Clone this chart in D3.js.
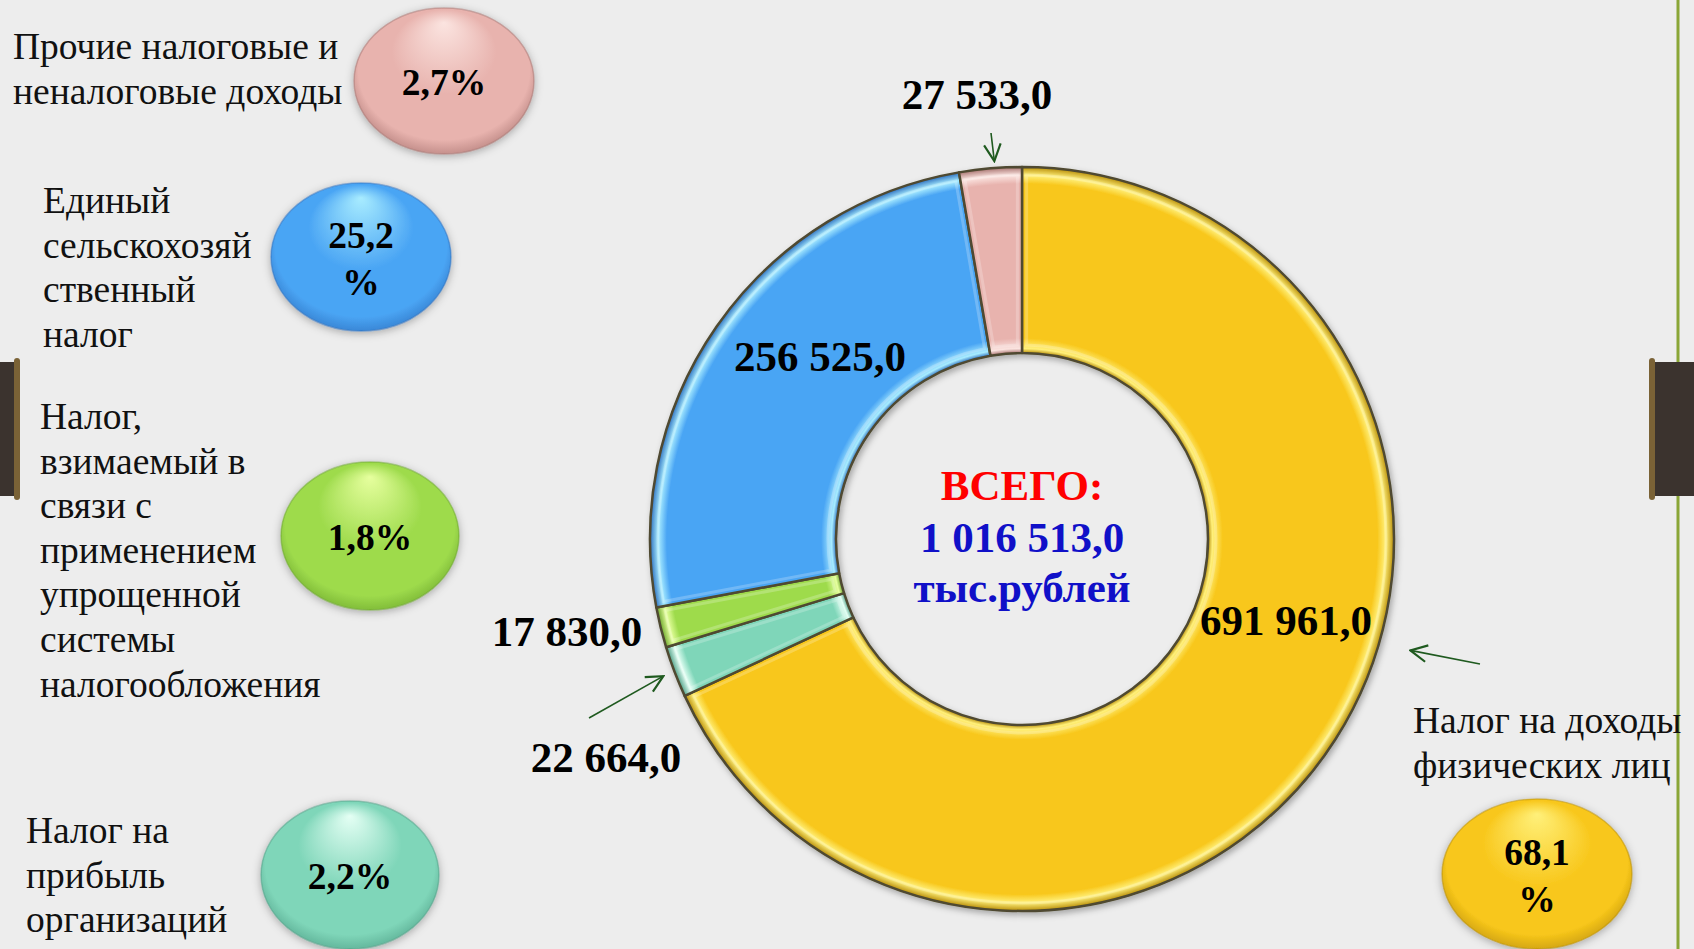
<!DOCTYPE html>
<html>
<head>
<meta charset="utf-8">
<script src="https://cdn.jsdelivr.net/npm/d3@7"></script>
<style>
  html, body { margin: 0; padding: 0; background: #ededed; }
  svg { display: block; }
</style>
</head>
<body>
<svg id="chart"></svg>
<script>
// data
const categories = [
    'Налог на доходы физических лиц',
    'Налог на прибыль организаций',
    'Налог, взимаемый в связи с применением упрощенной системы налогообложения',
    'Единый сельскохозяйственный налог',
    'Прочие налоговые и неналоговые доходы'
];
const values = [691961.0, 22664.0, 17830.0, 256525.0, 27533.0];
const legendLines = [
    ['Налог на доходы', 'физических лиц'],
    ['Налог на', 'прибыль', 'организаций'],
    ['Налог,', 'взимаемый в', 'связи с', 'применением', 'упрощенной', 'системы', 'налогообложения'],
    ['Единый', 'сельскохозяй', 'ственный', 'налог'],
    ['Прочие налоговые и', 'неналоговые доходы']
];
const totalLines = ['ВСЕГО:', null, 'тыс.рублей'];

// colours per slice: base, light, dark
const sliceColors = [
    { base: '#f8c71b', light: '#fff07a', dark: '#b88d08' },
    { base: '#7fd6b9', light: '#e4fff4', dark: '#4e9f86' },
    { base: '#9edb4c', light: '#e6ff9e', dark: '#6aa52a' },
    { base: '#4aa5f4', light: '#a8ecff', dark: '#2c6fbf' },
    { base: '#e8b3ae', light: '#fbe4e0', dark: '#a87370' }
];

const W = 1694, H = 949;
const cx = 1022, cy = 539, rOuter = 372, rInner = 186;
const serif = '"Liberation Serif", "Times New Roman", serif';

const ruLocale = d3.formatLocale({ decimal: ',', thousands: ' ', grouping: [3], currency: ['', ''] });
const fmtValue = ruLocale.format(',.1f');
const fmtPct = ruLocale.format('.1f');

const total = d3.sum(values);
const data = values.map((v, i) => ({ name: categories[i], value: v, color: sliceColors[i], lines: legendLines[i] }));

const svg = d3.select('#chart').attr('width', W).attr('height', H);
const defs = svg.append('defs');

// background
svg.append('rect').attr('width', W).attr('height', H).attr('fill', '#ededed');

// right border line and the two dark tabs
svg.append('line')
    .attr('x1', 1678).attr('x2', 1678).attr('y1', 0).attr('y2', H)
    .attr('stroke', '#8aa637').attr('stroke-width', 3);
[[-6, 24], [1651, 50]].forEach(([x, w]) => {
    svg.append('rect').attr('x', x).attr('y', 362).attr('width', w).attr('height', 134)
        .attr('fill', '#3b332e');
    svg.append('rect').attr('x', x + (x < 0 ? w - 4 : -2)).attr('y', 358).attr('width', 6).attr('height', 142)
        .attr('rx', 3).attr('fill', '#7a6236');
});

// filters
const shadow = defs.append('filter').attr('id', 'shadow')
    .attr('x', '-20%').attr('y', '-20%').attr('width', '140%').attr('height', '140%');
shadow.append('feDropShadow').attr('dx', 2).attr('dy', 3).attr('stdDeviation', 3)
    .attr('flood-color', '#000').attr('flood-opacity', 0.3);

const blur = defs.append('filter').attr('id', 'soft')
    .attr('x', '-20%').attr('y', '-20%').attr('width', '140%').attr('height', '140%');
blur.append('feDropShadow').attr('dx', 0).attr('dy', 2).attr('stdDeviation', 4)
    .attr('flood-color', '#000').attr('flood-opacity', 0.3);

// ring gradients (bevel look), in the donut group's own coordinates
const k = rInner / rOuter;
data.forEach((d, i) => {
    const g = defs.append('radialGradient').attr('id', 'ring' + i)
        .attr('gradientUnits', 'userSpaceOnUse')
        .attr('cx', 0).attr('cy', 0).attr('r', rOuter);
    [
        [k, d.color.dark],
        [k + 0.012, d.color.light],
        [k + 0.04, d.color.base],
        [0.955, d.color.base],
        [0.978, d.color.light],
        [1, d.color.dark]
    ].forEach(([o, c]) => g.append('stop').attr('offset', o).attr('stop-color', c));
});

// donut
const pie = d3.pie().sort(null).value(d => d.value);
const arc = d3.arc().innerRadius(rInner).outerRadius(rOuter);
const arcs = pie(data);

const donut = svg.append('g')
    .attr('transform', `translate(${cx}, ${cy})`)
    .attr('filter', 'url(#shadow)');

donut.selectAll('path.slice')
    .data(arcs)
    .enter()
    .append('path')
    .attr('class', 'slice')
    .attr('d', arc)
    .attr('fill', (d, i) => `url(#ring${i})`)
    .attr('stroke', '#4f4a30')
    .attr('stroke-width', 2.5)
    .attr('stroke-linejoin', 'round');

// inner bevel highlight along slice edges
const hiArc = d3.arc().innerRadius(rInner + 8).outerRadius(rOuter - 8).padAngle(0.025).padRadius(rOuter);
donut.selectAll('path.hi')
    .data(arcs)
    .enter()
    .append('path')
    .attr('class', 'hi')
    .attr('d', hiArc)
    .attr('fill', 'none')
    .attr('stroke', '#ffffff')
    .attr('stroke-opacity', 0.22)
    .attr('stroke-width', 3);

// value labels (placed as in the original)
const labelPos = [
    { x: 1286, y: 635 },
    { x: 606, y: 772 },
    { x: 567, y: 646 },
    { x: 820, y: 371 },
    { x: 977, y: 109 }
];
svg.selectAll('text.value')
    .data(arcs)
    .enter()
    .append('text')
    .attr('class', 'value')
    .attr('x', (d, i) => labelPos[i].x)
    .attr('y', (d, i) => labelPos[i].y)
    .attr('text-anchor', 'middle')
    .attr('font-family', serif)
    .attr('font-weight', 'bold')
    .attr('font-size', 43)
    .attr('fill', '#000')
    .text(d => fmtValue(d.data.value));

// arrows
defs.append('marker').attr('id', 'arrow')
    .attr('viewBox', '0 0 12 12').attr('refX', 11).attr('refY', 6)
    .attr('markerWidth', 20).attr('markerHeight', 20)
    .attr('markerUnits', 'userSpaceOnUse')
    .attr('orient', 'auto')
    .append('path')
    .attr('d', 'M1,1 L11,6 L1,11')
    .attr('fill', 'none')
    .attr('stroke', '#1f5a1f')
    .attr('stroke-width', 1.3);

const polar = (a, r) => [cx + r * Math.sin(a), cy - r * Math.cos(a)];
const mid = d => (d.startAngle + d.endAngle) / 2;
const arrows = [
    { slice: 4, tip: polar(mid(arcs[4]) + 0.012, rOuter + 7), tail: [991, 133] },
    { slice: 1, tip: polar(mid(arcs[1]), rOuter + 12), tail: [589, 718] },
    { slice: 0, tip: polar(106 * Math.PI / 180, rOuter + 32), tail: [1480, 664] }
];
svg.selectAll('line.arrow')
    .data(arrows)
    .enter()
    .append('line')
    .attr('class', 'arrow')
    .attr('x1', d => d.tail[0]).attr('y1', d => d.tail[1])
    .attr('x2', d => d.tip[0]).attr('y2', d => d.tip[1])
    .attr('stroke', '#1f5a1f')
    .attr('stroke-width', 1.6)
    .attr('marker-end', 'url(#arrow)');

// centre total
const centre = svg.append('g').attr('font-family', serif).attr('font-weight', 'bold')
    .attr('font-size', 43).attr('text-anchor', 'middle');
centre.append('text').attr('x', cx).attr('y', 500).attr('fill', '#ff0000').text(totalLines[0]);
centre.append('text').attr('x', cx).attr('y', 552).attr('fill', '#1010c8').text(fmtValue(total));
centre.append('text').attr('x', cx).attr('y', 602).attr('fill', '#1010c8').text(totalLines[2]);

// legend texts
const legendPos = [
    { x: 1413, y: 733 },
    { x: 26, y: 843 },
    { x: 40, y: 429 },
    { x: 43, y: 213 },
    { x: 13, y: 59 }
];
const lineGap = 44.6;
data.forEach((d, i) => {
    const t = svg.append('text')
        .attr('font-family', serif)
        .attr('font-size', 37.5)
        .attr('fill', '#111');
    d.lines.forEach((ln, j) => {
        t.append('tspan')
            .attr('x', legendPos[i].x)
            .attr('y', legendPos[i].y + j * lineGap)
            .text(ln);
    });
});

// percentage bubbles
const bubblePos = [
    { x: 1537, y: 874, rx: 95, ry: 75 },
    { x: 350, y: 875, rx: 89, ry: 74 },
    { x: 370, y: 536, rx: 89, ry: 74 },
    { x: 361, y: 257, rx: 90, ry: 74 },
    { x: 444, y: 81, rx: 90, ry: 73 }
];
data.forEach((d, i) => {
    const g = defs.append('radialGradient').attr('id', 'bub' + i)
        .attr('cx', '50%').attr('cy', '50%').attr('r', '58%')
        .attr('fx', '50%').attr('fy', '10%');
    [[0, d.color.light], [0.5, d.color.base], [0.82, d.color.base], [1, d.color.dark]]
        .forEach(([o, c]) => g.append('stop').attr('offset', o).attr('stop-color', c));
});

const bubbles = svg.selectAll('g.bubble')
    .data(data)
    .enter()
    .append('g')
    .attr('class', 'bubble')
    .attr('transform', (d, i) => `translate(${bubblePos[i].x}, ${bubblePos[i].y})`);

bubbles.append('ellipse')
    .attr('rx', (d, i) => bubblePos[i].rx)
    .attr('ry', (d, i) => bubblePos[i].ry)
    .attr('fill', (d, i) => `url(#bub${i})`)
    .attr('stroke', (d, i) => d.color.dark)
    .attr('stroke-opacity', 0.5)
    .attr('stroke-width', 1.5)
    .attr('filter', 'url(#soft)');

bubbles.each(function(d, i) {
    const pct = fmtPct(d.value / total * 100);
    const t = d3.select(this).append('text')
        .attr('text-anchor', 'middle')
        .attr('font-family', serif)
        .attr('font-weight', 'bold')
        .attr('font-size', 37.5)
        .attr('fill', '#000');
    // the two larger shares were wrapped onto two lines in the original
    if (pct.length > 3) {
        t.append('tspan').attr('x', 0).attr('y', -9).text(pct);
        t.append('tspan').attr('x', 0).attr('y', 38).text('%');
    } else {
        t.append('tspan').attr('x', 0).attr('y', 14).text(pct + '%');
    }
});
</script>
</body>
</html>
